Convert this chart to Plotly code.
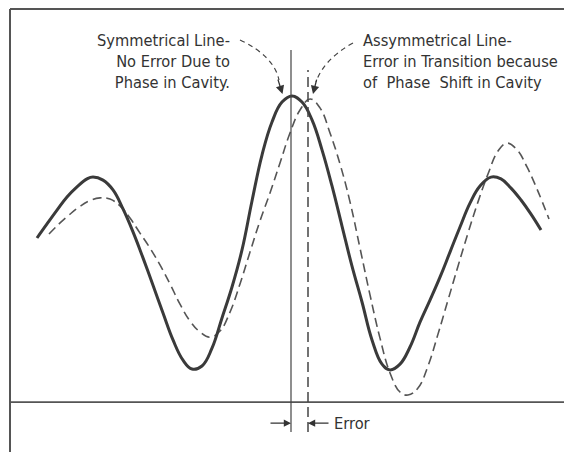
import plotly.graph_objects as go

# Frequency offset (in units of half the fringe spacing) and relative transition probability
solid_x = [-2.54, -2.44, -2.34, -2.24, -2.14, -2.04, -1.98, -1.88, -1.78, -1.68, -1.58, -1.48,
           -1.38, -1.28, -1.18, -1.08, -0.99, -0.89, -0.79, -0.69, -0.59, -0.49, -0.39, -0.29,
           -0.19, -0.09, 0.01, 0.11, 0.21, 0.31, 0.41, 0.51, 0.61, 0.71, 0.81, 0.91, 0.99,
           1.09, 1.19, 1.29, 1.39, 1.49, 1.59, 1.69, 1.79, 1.89, 2.00, 2.10, 2.20, 2.30,
           2.40, 2.50]
solid_y = [0.536, 0.582, 0.627, 0.670, 0.703, 0.729, 0.735, 0.725, 0.693, 0.631, 0.556, 0.471,
           0.382, 0.291, 0.203, 0.137, 0.108, 0.118, 0.176, 0.275, 0.376, 0.497, 0.657, 0.807,
           0.915, 0.980, 1.000, 0.980, 0.922, 0.824, 0.706, 0.575, 0.444, 0.327, 0.203, 0.124,
           0.105, 0.124, 0.180, 0.261, 0.333, 0.408, 0.490, 0.572, 0.650, 0.706, 0.735, 0.729,
           0.699, 0.660, 0.614, 0.562]

dashed_x = [-2.42, -2.32, -2.22, -2.12, -2.02, -1.91, -1.81, -1.71, -1.61, -1.51, -1.41, -1.31,
            -1.21, -1.11, -1.01, -0.91, -0.81, -0.71, -0.61, -0.51, -0.41, -0.31, -0.21, -0.11,
            -0.01, 0.09, 0.19, 0.29, 0.39, 0.49, 0.59, 0.69, 0.79, 0.89, 0.99, 1.09, 1.17,
            1.27, 1.37, 1.47, 1.57, 1.67, 1.77, 1.87, 1.97, 2.07, 2.16, 2.26, 2.36, 2.46, 2.58]
dashed_y = [0.549, 0.582, 0.611, 0.637, 0.657, 0.667, 0.663, 0.641, 0.601, 0.552, 0.503, 0.448,
            0.386, 0.320, 0.265, 0.229, 0.212, 0.232, 0.294, 0.386, 0.490, 0.592, 0.683, 0.781,
            0.879, 0.954, 0.990, 0.961, 0.879, 0.778, 0.654, 0.503, 0.350, 0.209, 0.095, 0.033,
            0.023, 0.046, 0.118, 0.222, 0.333, 0.444, 0.552, 0.654, 0.745, 0.820, 0.846, 0.824,
            0.768, 0.696, 0.598]

symmetric_center = 0.0
error_shift = 0.17

left_label = "Symmetrical Line-<br>No Error Due to<br>Phase in Cavity."
right_label = "Assymmetrical Line-<br>Error in Transition because<br>of  Phase  Shift in Cavity"
error_label = "Error"

INK = "#3a3a3a"
TXT = "#333333"
FONT = "DejaVu Sans Condensed, Liberation Sans Narrow, sans-serif"
FS = 16.3

fig = go.Figure()
fig.add_trace(go.Scatter(x=dashed_x, y=dashed_y, mode="lines",
                         line=dict(color="#555555", width=1.6, dash="9px,5px",
                                   shape="spline", smoothing=1.2),
                         hoverinfo="skip", showlegend=False))
fig.add_trace(go.Scatter(x=solid_x, y=solid_y, mode="lines",
                         line=dict(color=INK, width=3, shape="spline", smoothing=1.2),
                         hoverinfo="skip", showlegend=False))

shapes = []
# frame (left, top, right)
for x0, y0, x1, y1 in [(0, 0, 0, 1), (0, 1, 1, 1), (1, 0, 1, 1)]:
    shapes.append(dict(type="line", xref="paper", yref="paper", x0=x0, y0=y0, x1=x1, y1=y1,
                       line=dict(color="#555555", width=2)))
# baseline
shapes.append(dict(type="line", xref="paper", yref="y", x0=0, x1=1, y0=0, y1=0,
                   line=dict(color="#555555", width=1.6)))
# line centres
shapes.append(dict(type="line", xref="x", yref="y", x0=symmetric_center, x1=symmetric_center,
                   y0=-0.098, y1=1.15, line=dict(color="#444444", width=1.2)))
shapes.append(dict(type="line", xref="x", yref="y", x0=symmetric_center + error_shift,
                   x1=symmetric_center + error_shift, y0=-0.098, y1=1.085,
                   line=dict(color="#444444", width=1.5, dash="10px,5px")))
# curved dashed leaders
shapes.append(dict(type="path", xref="x", yref="y",
                   path="M -0.51 1.183 Q -0.17 1.13 -0.12 1.052",
                   line=dict(color="#444444", width=1.2, dash="5px,4px")))
shapes.append(dict(type="path", xref="x", yref="y",
                   path="M 0.62 1.173 Q 0.33 1.12 0.25 1.046",
                   line=dict(color="#444444", width=1.2, dash="5px,4px")))

annotations = [
    dict(x=-0.59, y=1.114, xref="x", yref="y", text=left_label, showarrow=False,
         xanchor="right", yanchor="middle", align="right",
         font=dict(family=FONT, size=FS, color=TXT)),
    dict(x=0.70, y=1.114, xref="x", yref="y", text=right_label, showarrow=False,
         xanchor="left", yanchor="middle", align="left",
         font=dict(family=FONT, size=FS, color=TXT)),
    # leader arrowheads
    dict(x=-0.085, y=1.006, xref="x", yref="y", ax=-5, ay=-16, text="", showarrow=True,
         arrowhead=2, arrowsize=1.3, arrowwidth=1.3, arrowcolor=TXT),
    dict(x=0.22, y=1.006, xref="x", yref="y", ax=4, ay=-16, text="", showarrow=True,
         arrowhead=2, arrowsize=1.3, arrowwidth=1.3, arrowcolor=TXT),
    # error arrows
    dict(x=symmetric_center, y=-0.069, xref="x", yref="y", ax=-22, ay=0, text="",
         showarrow=True, arrowhead=2, arrowsize=1.2, arrowwidth=1.2, arrowcolor=TXT),
    dict(x=symmetric_center + error_shift, y=-0.069, xref="x", yref="y", ax=22, ay=0, text="",
         showarrow=True, arrowhead=2, arrowsize=1.2, arrowwidth=1.2, arrowcolor=TXT),
    dict(x=0.41, y=-0.069, xref="x", yref="y", text=error_label, showarrow=False,
         xanchor="left", yanchor="middle",
         font=dict(family=FONT, size=FS, color=TXT)),
]

# page body adds an 8px offset; margins chosen so the frame lands where the reference has it
fig.update_layout(
    width=572, height=452,
    margin=dict(l=2, r=11, t=1, b=8),
    paper_bgcolor="white", plot_bgcolor="white",
    xaxis=dict(visible=False, range=[-2.81, 2.78], fixedrange=True),
    yaxis=dict(visible=False, range=[-0.163, 1.284], fixedrange=True),
    shapes=shapes, annotations=annotations, showlegend=False,
)

fig.write_html("out.html")
